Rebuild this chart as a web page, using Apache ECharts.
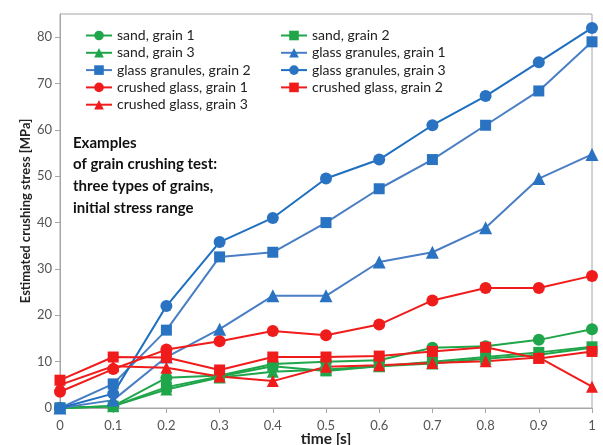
<!DOCTYPE html>
<html>
<head>
<meta charset="utf-8">
<script src="https://cdn.jsdelivr.net/npm/echarts@6/dist/echarts.min.js"></script>
<style>
  html, body { margin: 0; padding: 0; background: #fff; }
  #chart { width: 603px; height: 445px; }
</style>
</head>
<body>
<div id="chart"></div>
<script>
var times = [0, 0.1, 0.2, 0.3, 0.4, 0.5, 0.6, 0.7, 0.8, 0.9, 1];
var yTicks = [0, 10, 20, 30, 40, 50, 60, 70, 80];

var sand1 = [0, 0.4, 6.5, 7, 9.5, 10, 10.3, 13, 13.3, 14.7, 17];
var sand2 = [0, 0.4, 4.5, 6.8, 9, 8, 9, 10, 11, 12, 13.2];
var sand3 = [0, 0.4, 4, 6.6, 7.8, 8.3, 9, 9.6, 10.6, 11.5, 13];
var glass1 = [0, 1.7, 11, 17, 24.2, 24.2, 31.5, 33.6, 38.9, 49.5, 54.7];
var glass2 = [0, 5.2, 16.8, 32.6, 33.6, 40, 47.3, 53.6, 61, 68.4, 79];
var glass3 = [0, 3.1, 22, 35.8, 41, 49.5, 53.6, 61, 67.3, 74.6, 82];
var crushed1 = [3.5, 8.4, 12.6, 14.4, 16.6, 15.7, 18, 23.2, 25.9, 25.9, 28.5];
var crushed2 = [6, 11, 10.9, 8.2, 11, 11, 11.2, 12.2, 13.1, 10.7, 12.2];
var crushed3 = [5, 9, 8.7, 6.8, 5.8, 8.9, 9.2, 9.7, 10.1, 10.9, 4.6];

var GREEN = '#20a64a', BLUE_D = '#1f6fc0', BLUE_L = '#4a7ec4', BLUE_M = '#2a73c2', RED = '#f01c1c';

function pairs(vals) {
    return times.map(function (t, i) { return [t, vals[i]]; });
}
function mk(name, vals, symbol, color, lineColor, size) {
    return {
        name: name,
        type: 'line',
        data: pairs(vals),
        symbol: symbol,
        symbolSize: size,
        showAllSymbol: true,
        itemStyle: { color: color },
        lineStyle: { color: lineColor, width: 2 },
        emphasis: { disabled: true }
    };
}

var chart = echarts.init(document.getElementById('chart'));
var font = 'Lato, "Open Sans", sans-serif';
var legendCommon = {
    orient: 'vertical',
    top: 22,
    itemWidth: 26,
    itemHeight: 12,
    itemGap: 0.3,
    textStyle: { fontFamily: font, fontSize: 14, color: '#222', lineHeight: 17 }
};

chart.setOption({
    animation: false,
    textStyle: { fontFamily: font },
    grid: {
        left: 60, right: 11, top: 14, bottom: 37,
        outerBoundsMode: 'none', containLabel: false,
        show: true, borderColor: '#a6a6a6', borderWidth: 1
    },
    legend: [
        Object.assign({ left: 80, data: ['sand, grain 1', 'sand, grain 3', 'glass granules, grain 2', 'crushed glass, grain 1', 'crushed glass, grain 3'] }, legendCommon),
        Object.assign({ left: 275, data: ['sand, grain 2', 'glass granules, grain 1', 'glass granules, grain 3', 'crushed glass, grain 2'] }, legendCommon)
    ],
    xAxis: {
        type: 'value',
        min: 0, max: 1, interval: 0.1,
        name: 'time [s]',
        nameLocation: 'middle',
        nameGap: 23,
        nameMoveOverlap: false,
        nameTextStyle: { fontFamily: font, fontSize: 15.5, fontWeight: 'bold', color: '#222' },
        splitLine: { show: false },
        axisLine: { lineStyle: { color: '#a6a6a6' } },
        axisTick: { show: true, length: 5, lineStyle: { color: '#a6a6a6' } },
        axisLabel: { fontSize: 13, color: '#555', margin: 11, formatter: function (v) { return String(+v.toFixed(1)); } }
    },
    yAxis: {
        type: 'value',
        min: 0, max: 85, interval: 10,
        name: 'Estimated crushing stress [MPa]',
        nameLocation: 'middle',
        nameGap: 28,
        nameMoveOverlap: false,
        nameTextStyle: { fontFamily: font, fontSize: 13, fontWeight: 'bold', color: '#222' },
        splitLine: { show: false },
        axisLine: { show: true, lineStyle: { color: '#a6a6a6' } },
        axisTick: { show: true, length: 5, lineStyle: { color: '#a6a6a6' } },
        axisLabel: {
            fontSize: 13, color: '#555', margin: 8, showMaxLabel: false,
            formatter: function (v) { return yTicks.indexOf(v) >= 0 ? String(v) : ''; }
        }
    },
    graphic: [{
        type: 'text',
        left: 73, top: 132,
        style: {
            text: 'Examples\nof grain crushing test:\nthree types of grains,\ninitial stress range',
            font: 'bold 15px ' + font,
            lineHeight: 21.7,
            fill: '#111'
        }
    }],
    series: [
        mk('sand, grain 1', sand1, 'circle', GREEN, GREEN, 12),
        mk('sand, grain 2', sand2, 'rect', GREEN, GREEN, 11),
        mk('sand, grain 3', sand3, 'triangle', GREEN, GREEN, 12),
        mk('glass granules, grain 1', glass1, 'triangle', BLUE_M, BLUE_L, 13),
        mk('glass granules, grain 2', glass2, 'rect', BLUE_M, BLUE_L, 11),
        mk('glass granules, grain 3', glass3, 'circle', BLUE_M, BLUE_D, 12),
        mk('crushed glass, grain 1', crushed1, 'circle', RED, RED, 12),
        mk('crushed glass, grain 2', crushed2, 'rect', RED, RED, 11),
        mk('crushed glass, grain 3', crushed3, 'triangle', RED, RED, 12)
    ]
});
</script>
</body>
</html>
